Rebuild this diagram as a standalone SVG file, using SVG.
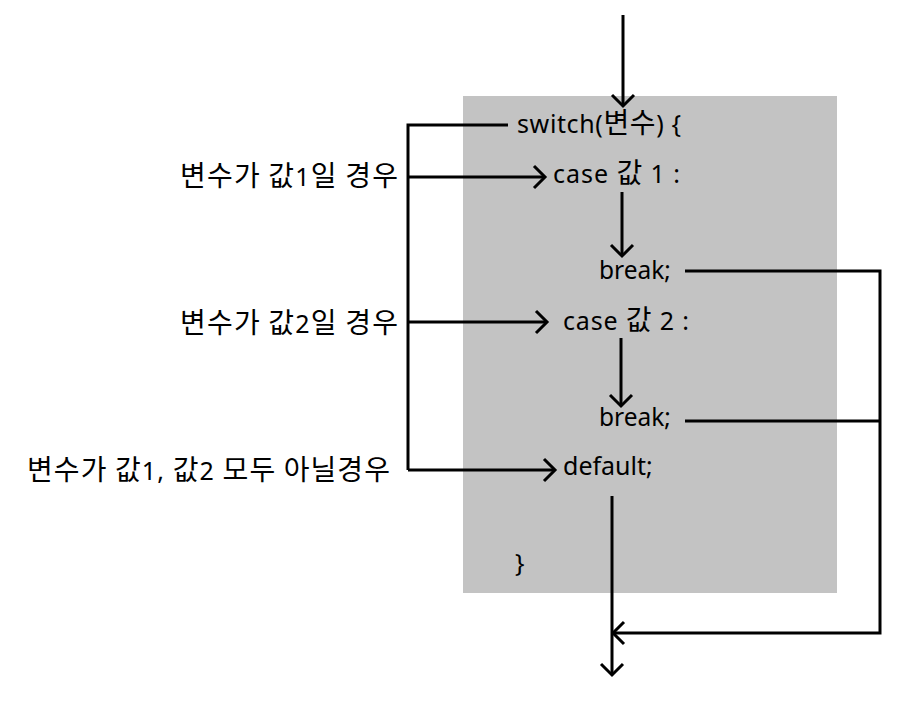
<svg xmlns="http://www.w3.org/2000/svg" width="924" height="711" viewBox="0 0 924 711">
<style>
text{font-family:"Noto Sans","Noto Sans CJK KR",sans-serif;font-size:25px;fill:#000}
.k{font-family:"Noto Sans CJK KR",sans-serif;font-size:28px}
.b{font-size:24.5px}
.ln{fill:none;stroke:#000;stroke-width:3}
</style>
<defs>
<marker id="ah" markerUnits="userSpaceOnUse" markerWidth="30" markerHeight="30" viewBox="-15 -15 30 30" refX="0" refY="0" orient="auto">
<path d="M-11,-11 L0,0 L-11,11" fill="none" stroke="#000" stroke-width="3"/>
</marker>
</defs>
<rect id="bg" x="463" y="96" width="374" height="497" fill="#c3c3c3"/>
<g id="nodes">
<g id="n-switch"><text x="517" y="133" textLength="164" lengthAdjust="spacing">switch(<tspan class="k">변수</tspan>) {</text></g>
<g id="n-case1"><text x="553" y="183" textLength="127" lengthAdjust="spacing">case <tspan class="k">값</tspan> 1 :</text></g>
<g id="n-break1"><text class="b" x="599" y="279">break;</text></g>
<g id="n-case2"><text x="563" y="330" textLength="126" lengthAdjust="spacing">case <tspan class="k">값</tspan> 2 :</text></g>
<g id="n-break2"><text class="b" x="599" y="426">break;</text></g>
<g id="n-default"><text x="563" y="475">default;</text></g>
<g id="n-close"><text x="515" y="572">}</text></g>
<g id="l1"><text x="180" y="186" textLength="218" lengthAdjust="spacing"><tspan class="k">변수가 값</tspan>1<tspan class="k">일 경우</tspan></text></g>
<g id="l2"><text x="180" y="333" textLength="218" lengthAdjust="spacing"><tspan class="k">변수가 값</tspan>2<tspan class="k">일 경우</tspan></text></g>
<g id="l3"><text x="27" y="480" textLength="363" lengthAdjust="spacing"><tspan class="k">변수가 값</tspan>1, <tspan class="k">값</tspan>2 <tspan class="k">모두 아닐경우</tspan></text></g>
</g>
<g id="connectors">
<path class="ln" d="M623,15 V106" marker-end="url(#ah)"/>
<path class="ln" d="M508,125 H408 V470"/>
<path class="ln" d="M408,177 H545" marker-end="url(#ah)"/>
<path class="ln" d="M408,322 H547" marker-end="url(#ah)"/>
<path class="ln" d="M408,470 H555" marker-end="url(#ah)"/>
<path class="ln" d="M622,192 V256" marker-end="url(#ah)"/>
<path class="ln" d="M621,338 V406" marker-end="url(#ah)"/>
<path class="ln" d="M685,271 H880 V633 H613" marker-end="url(#ah)"/>
<path class="ln" d="M685,421 H880"/>
<path class="ln" d="M612,496 V675" marker-end="url(#ah)"/>
</g>
</svg>
